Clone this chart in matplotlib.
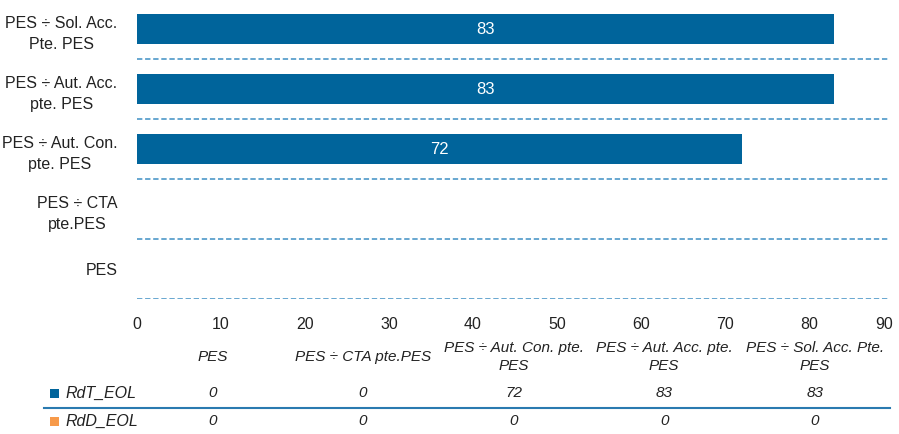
import matplotlib
matplotlib.use('Agg')
import matplotlib.pyplot as plt
from matplotlib.patches import Rectangle
import numpy as np

plt.rcParams['font.family'] = ['Liberation Sans Narrow', 'Liberation Sans', 'DejaVu Sans']

# --- data ---
bar_labels = ['PES', 'PES ÷ CTA\npte.PES', 'PES ÷ Aut. Con.\npte. PES',
              'PES ÷ Aut. Acc.\npte. PES', 'PES ÷ Sol. Acc.\nPte. PES']
table_headers = ['PES', 'PES ÷ CTA pte.PES', 'PES ÷ Aut. Con. pte.\nPES',
                 'PES ÷ Aut. Acc. pte.\nPES', 'PES ÷ Sol. Acc. Pte.\nPES']
rdt_eol = [0, 0, 72, 83, 83]
rdd_eol = [0, 0, 0, 0, 0]
series_names = ['RdT_EOL', 'RdD_EOL']
x_ticks = [0, 10, 20, 30, 40, 50, 60, 70, 80, 90]

BLUE = '#00649b'
ORANGE = '#f79a4a'
GRID = '#3f8fc4'
TXT = '#222222'

W, H = 899, 434
fig = plt.figure(figsize=(W / 100, H / 100), dpi=100)

# main bar axes
ax = fig.add_axes([137 / W, (H - 299) / H, (893 - 137) / W, 300 / H])
y = np.arange(len(bar_labels))
bars = ax.barh(y, rdt_eol, height=0.5, color=BLUE, zorder=3)
ax.bar_label(bars, labels=[str(v) if v else '' for v in rdt_eol],
             label_type='center', color='white', fontsize=12)
ax.set_xlim(0, 90)
ax.set_ylim(-0.5, 4.5)
for b in y:
    ax.axhline(b - 0.5, xmin=0, xmax=(890 - 137) / (893 - 137), color=GRID,
               lw=1.1, dashes=(3.5, 1.8), zorder=1)
ax.set_yticks(y)
ax.set_yticklabels(bar_labels, multialignment='center', fontsize=11.5, color=TXT,
                   linespacing=1.55)
ax.set_xticks(x_ticks)
ax.set_xticklabels([str(t) for t in x_ticks], fontsize=11.5, color=TXT)
ax.get_xticklabels()[-1].set_ha('right')
ax.tick_params(length=0)
ax.tick_params(axis='y', pad=14)
ax.tick_params(axis='x', pad=13)
for s in ax.spines.values():
    s.set_visible(False)

# data table below
tax = fig.add_axes([137 / W, 0, (890 - 137) / W, 104 / H])
tax.set_xlim(0, len(table_headers))
tax.set_ylim(104, 0)  # rows measured down from y=330
tax.axis('off')
cols = np.arange(len(table_headers)) + 0.5
for cx, h in zip(cols, table_headers):
    tax.text(cx, 27, h, ha='center', va='center', style='italic',
             fontsize=11, color=TXT, linespacing=1.3)
for cx, v in zip(cols, rdt_eol):
    tax.text(cx, 63, str(v), ha='center', va='center', style='italic', fontsize=11, color=TXT)
for cx, v in zip(cols, rdd_eol):
    tax.text(cx, 91, str(v), ha='center', va='center', style='italic', fontsize=11, color=TXT)

# row headers with legend keys
for i, (name, col) in enumerate(zip(series_names, [BLUE, ORANGE])):
    yc = [393, 421][i]
    fig.add_artist(Rectangle((50 / W, (H - yc - 4.5) / H), 9 / W, 9 / H,
                             transform=fig.transFigure, color=col, lw=0))
    fig.text(65 / W, (H - yc) / H, name, style='italic', fontsize=11.5,
             va='center', color=TXT)
fig.add_artist(plt.Line2D([44 / W, 890 / W], [(H - 408) / H] * 2, color='#2a7ab0', lw=1.5))

fig.savefig('out.png', dpi=100)
